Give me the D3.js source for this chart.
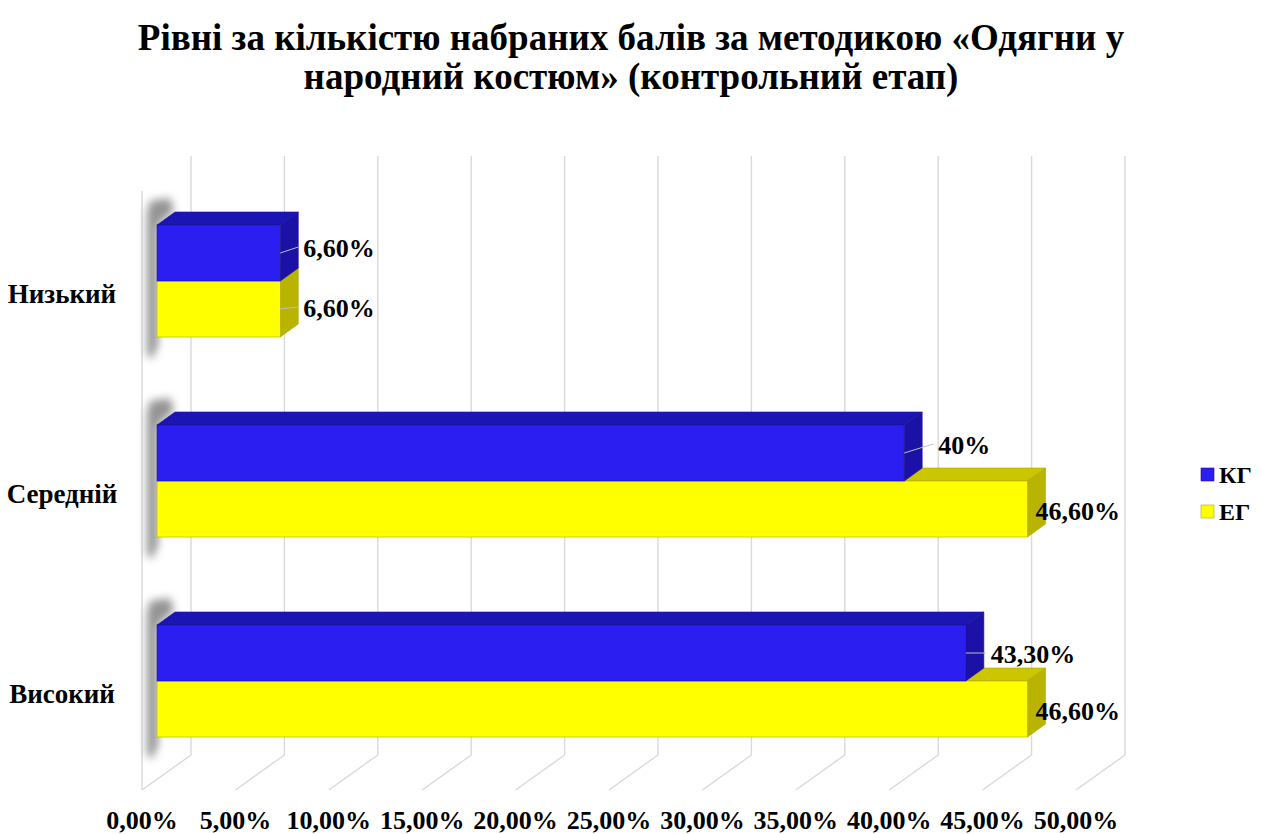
<!DOCTYPE html>
<html>
<head>
<meta charset="utf-8">
<script src="https://cdn.jsdelivr.net/npm/d3@7"></script>
<style>
  body { margin: 0; background: #fff; }
</style>
</head>
<body>
<div id="chart"></div>
<script>
// data
const categories = ['Низький', 'Середній', 'Високий'];
const seriesNames = ['КГ', 'ЕГ'];
const kgValues = [6.6, 40, 43.3];
const egValues = [6.6, 46.6, 46.6];
const tickValues = [0, 5, 10, 15, 20, 25, 30, 35, 40, 45, 50];
const titleLines = ['Рівні за кількістю набраних балів за методикою «Одягни у', 'народний костюм» (контрольний етап)'];

const width = 1261, height = 834;
const font = 'Liberation Serif';
const colors = {
    'КГ': { front: '#2a1ff0', top: '#1d14b4', side: '#1b11a6', edge: '#1a129a' },
    'ЕГ': { front: '#ffff00', top: '#cbc600', side: '#b9b400', edge: '#b0aa00' }
};

// 3d layout
const depth = { dx: 18, dy: -13 };      // bar depth
const wall = { dx: -49, dy: 35 };       // full floor depth (back -> front)
const wallTop = 156, floorY = 755;

const svg = d3.select('#chart').append('svg')
    .attr('width', width)
    .attr('height', height);

const defs = svg.append('defs');
defs.append('filter').attr('id', 'blur').attr('x', '-100%').attr('y', '-30%').attr('width', '300%').attr('height', '160%')
    .append('feGaussianBlur').attr('stdDeviation', 4);

const xFront = d3.scaleLinear().domain([0, 50]).range([157, 1091]);
const xBack = d3.scaleLinear().domain([0, 50]).range([191, 1125]);
const y = d3.scaleBand().domain(categories).range([181, 781]);
const ySub = d3.scaleBand().domain(seriesNames).range([-56, 56]);

function txt(sel, size) {
    return sel.attr('font-family', font).attr('font-weight', 'bold').attr('font-size', size).attr('fill', '#000');
}

// title
txt(svg.append('g').selectAll('text')
    .data(titleLines)
    .enter().append('text'), 37)
    .attr('x', 631)
    .attr('y', (d, i) => 50 + i * 39)
    .attr('text-anchor', 'middle')
    .text(d => d);

// grid: back wall + floor diagonals
const grid = svg.append('g').attr('stroke', '#d9d9d9').attr('stroke-width', 1.4).attr('fill', 'none');
tickValues.forEach(t => {
    const xb = xBack(t);
    grid.append('path').attr('d', `M${xb},${wallTop}V${floorY}L${xb + wall.dx},${floorY + wall.dy}`);
});
// left wall front edge
grid.append('path').attr('d', `M${xBack(0) + wall.dx},${wallTop + wall.dy}V${floorY + wall.dy}`);

// axis labels
txt(svg.append('g').selectAll('text')
    .data(tickValues)
    .enter().append('text'), 26)
    .attr('x', d => xBack(d) + wall.dx)
    .attr('y', 829)
    .attr('text-anchor', 'middle')
    .text(d => d3.format('.2f')(d).replace('.', ',') + '%');

// category labels
txt(svg.append('g').selectAll('text')
    .data(categories)
    .enter().append('text'), 27)
    .attr('x', 62)
    .attr('y', d => y(d) + y.bandwidth() / 2 + 22)
    .attr('text-anchor', 'middle')
    .text(d => d);

// shadows on the left wall
svg.append('g').selectAll('path')
    .data(categories)
    .enter().append('path')
    .attr('d', d => {
        const c = y(d) + y.bandwidth() / 2;
        const t = c - 56, b = c + 56;
        return `M150,${t - 24}L170,${t - 27}L174,${t - 14}L158,${t}L158,${b + 8}L152,${b + 22}L147,${b + 18}L147,${t - 12}Z`;
    })
    .attr('fill', '#666')
    .attr('opacity', 0.7)
    .attr('filter', 'url(#blur)');

// bars
const rows = [];
categories.forEach((c, i) => {
    rows.push({ cat: c, s: 'ЕГ', v: egValues[i] });
    rows.push({ cat: c, s: 'КГ', v: kgValues[i] });
});

const bars = svg.append('g').selectAll('g')
    .data(rows)
    .enter().append('g');

function geo(d) {
    const c = y(d.cat) + y.bandwidth() / 2;
    const y0 = c + ySub(d.s), y1 = y0 + ySub.bandwidth();
    return { x0: xFront(0), x1: xFront(d.v), y0, y1 };
}

bars.append('path')
    .attr('d', d => {
        const g = geo(d);
        return `M${g.x0},${g.y0}L${g.x0 + depth.dx},${g.y0 + depth.dy}L${g.x1 + depth.dx},${g.y0 + depth.dy}L${g.x1},${g.y0}Z`;
    })
    .attr('fill', d => colors[d.s].top)
    .attr('stroke', d => colors[d.s].edge).attr('stroke-width', 0.6);

bars.append('path')
    .attr('d', d => {
        const g = geo(d);
        return `M${g.x1},${g.y0}L${g.x1 + depth.dx},${g.y0 + depth.dy}L${g.x1 + depth.dx},${g.y1 + depth.dy}L${g.x1},${g.y1}Z`;
    })
    .attr('fill', d => colors[d.s].side)
    .attr('stroke', d => colors[d.s].edge).attr('stroke-width', 0.6);

bars.append('rect')
    .attr('x', d => geo(d).x0)
    .attr('y', d => geo(d).y0)
    .attr('width', d => geo(d).x1 - geo(d).x0)
    .attr('height', d => geo(d).y1 - geo(d).y0)
    .attr('fill', d => colors[d.s].front)
    .attr('stroke', d => colors[d.s].edge).attr('stroke-width', 0.6);

// data labels: [dx from side face end, baseline offset from bar centre]
const labelNudge = {
    'Низький|КГ': [5, 4], 'Низький|ЕГ': [5, 8],
    'Середній|КГ': [16, 1], 'Середній|ЕГ': [-10, 11],
    'Високий|КГ': [7, 10], 'Високий|ЕГ': [-10, 11]
};
const fmt = v => (Number.isInteger(v) ? v : v.toFixed(2).replace('.', ',')) + '%';

const labels = svg.append('g').selectAll('g')
    .data(rows)
    .enter().append('g');

labels.each(function (d) {
    const g = geo(d);
    const n = labelNudge[d.cat + '|' + d.s];
    const cy = (g.y0 + g.y1) / 2;
    const lx = g.x1 + depth.dx + n[0];
    const by = cy + n[1];
    const sel = d3.select(this);
    if (n[0] > 0) {
        sel.append('path')
            .attr('d', `M${g.x1},${cy}L${lx - 5},${by - 10}`)
            .attr('stroke', '#bfbfbf').attr('stroke-width', 1).attr('fill', 'none');
    }
    txt(sel.append('text'), 26)
        .attr('x', lx)
        .attr('y', by)
        .text(fmt(d.v));
});

// legend
const legend = svg.append('g').selectAll('g')
    .data(seriesNames)
    .enter().append('g')
    .attr('transform', (d, i) => `translate(1201,${468 + i * 37})`);
legend.append('rect')
    .attr('width', 13).attr('height', 13)
    .attr('fill', d => colors[d].front)
    .attr('stroke', d => colors[d].edge).attr('stroke-width', 0.6);
txt(legend.append('text'), 24)
    .attr('x', 18).attr('y', 15)
    .text(d => d);
</script>
</body>
</html>
